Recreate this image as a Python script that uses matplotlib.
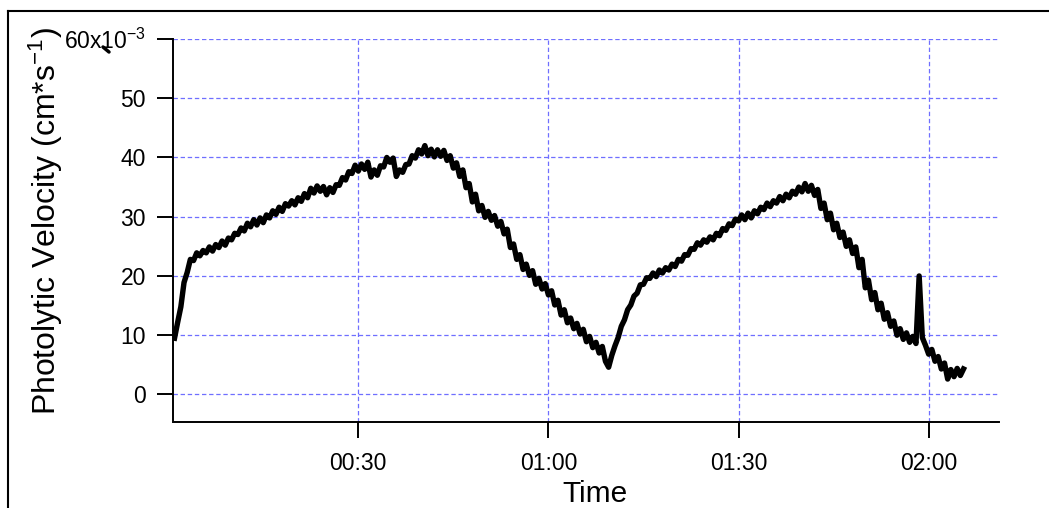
import numpy as np
import matplotlib
matplotlib.use("Agg")
import matplotlib.pyplot as plt
from matplotlib.lines import Line2D
from matplotlib.ticker import FuncFormatter, FixedLocator

plt.rcParams["font.family"] = ["Liberation Sans", "DejaVu Sans"]
plt.rcParams["mathtext.fontset"] = "custom"
plt.rcParams["mathtext.rm"] = "Liberation Sans"
plt.rcParams["mathtext.default"] = "regular"

# Sample clock (minutes since start), one reading every 30 s
t_start = 1.0
t_step = 0.5

# Photolytic velocity, units of 1e-3 cm/s
velocity = [
    9.5, 12.2, 14.8, 18.9, 20.6, 22.8, 22.6, 23.9, 23.4, 24.3,
    23.9, 24.9, 24.2, 25.3, 24.8, 25.9, 25.2, 26.4, 26.1, 27.2,
    27.0, 28.1, 27.6, 28.9, 28.3, 29.5, 28.6, 29.8, 29.0, 30.3,
    29.8, 31.0, 30.4, 31.6, 30.9, 32.2, 31.8, 32.7, 32.0, 33.2,
    32.6, 33.9, 33.2, 34.8, 34.0, 35.2, 34.3, 35.1, 33.7, 34.9,
    34.1, 35.4, 35.3, 36.6, 36.2, 37.6, 37.3, 38.7, 37.7, 38.9,
    38.0, 39.2, 36.7, 37.9, 37.0, 38.6, 38.4, 40.0, 39.2, 39.9,
    36.8, 37.9, 37.5, 38.8, 38.9, 40.3, 39.9, 41.3, 40.6, 42.0,
    40.3, 41.4, 40.1, 41.3, 40.2, 41.2, 39.5, 40.3, 38.2, 39.1,
    36.8, 37.9, 34.9, 35.6, 32.5, 33.8, 31.0, 31.9, 29.9, 30.9,
    29.4, 30.2, 28.4, 29.2, 27.1, 27.9, 24.8, 25.4, 22.8, 23.6,
    21.1, 22.0, 20.1, 20.9, 18.6, 19.6, 17.8, 18.7, 16.8, 17.5,
    15.1, 15.9, 13.4, 14.3, 12.1, 12.9, 11.1, 12.0, 10.2, 11.0,
    8.9, 9.8, 7.9, 8.8, 7.0, 8.1, 5.6, 4.6, 6.6, 8.2,
    9.6, 11.5, 12.6, 14.3, 15.1, 16.6, 17.1, 18.5, 18.6, 19.7,
    19.6, 20.5, 19.9, 21.0, 20.5, 21.4, 21.0, 22.0, 21.6, 22.8,
    22.5, 23.6, 23.5, 24.6, 24.5, 25.6, 25.2, 26.1, 25.7, 26.6,
    26.1, 27.2, 26.8, 28.0, 27.7, 28.8, 28.5, 29.6, 29.3, 30.3,
    29.5, 30.6, 29.8, 31.0, 30.5, 31.6, 31.2, 32.3, 31.7, 32.7,
    32.3, 33.4, 32.7, 33.8, 33.2, 34.3, 33.8, 35.0, 34.2, 35.6,
    34.3, 35.3, 33.6, 34.6, 31.4, 32.3, 29.5, 30.6, 27.8, 28.9,
    26.5, 27.4, 25.0, 26.1, 23.8, 24.9, 21.4, 22.8, 18.0, 19.3,
    16.0, 17.2, 14.3, 15.4, 12.7, 13.8, 11.5, 12.4, 10.0, 11.1,
    9.3, 10.4, 8.8, 9.8, 8.6, 20.0, 9.6, 8.3, 6.8, 7.6,
    5.6, 6.4, 4.3, 5.3, 2.6, 4.2, 3.0, 4.4, 3.2, 4.3,
]
minutes = t_start + t_step * np.arange(len(velocity))

y_ticks = [0, 10, 20, 30, 40, 50, 60]
y_tick_labels = ["0", "10", "20", "30", "40", "50", "60x10$^{-3}$"]
x_ticks = [30, 60, 90, 120]

W, H = 1049, 508
fig = plt.figure(figsize=(W / 100, H / 100), dpi=100)
fig.patch.set_facecolor("white")

ax = fig.add_axes([173 / W, 1 - 422 / H, (999 - 173) / W, (422 - 39) / H])
ax.plot(minutes, velocity, color="black", lw=3.9, solid_joinstyle="round")

ax.set_xlim(0.76, 131.1)
ax.set_ylim(-4.65, 60)

grid_kw = dict(color="#6f6fff", lw=0.9, ls=(0, (3.5, 2.2)), zorder=0)
for yv in y_ticks:
    ax.axhline(yv, **grid_kw)
for xv in x_ticks:
    ax.axvline(xv, **grid_kw)

ax.yaxis.set_major_locator(FixedLocator(y_ticks))
ax.set_yticklabels(y_tick_labels)
ax.xaxis.set_major_locator(FixedLocator(x_ticks))
ax.xaxis.set_major_formatter(FuncFormatter(lambda v, p: f"{int(v // 60):02d}:{int(v % 60):02d}"))

for side in ("top", "right"):
    ax.spines[side].set_visible(False)
for side in ("left", "bottom"):
    ax.spines[side].set_linewidth(1.4)
ax.spines["left"].set_bounds(-4.3, 60)

ax.tick_params(axis="both", direction="out", length=11.5, width=1.4,
               labelsize=16.5, colors="black")
ax.tick_params(axis="y", pad=8)
ax.tick_params(axis="x", pad=10)

fig.text(595 / W, 1 - 502 / H, "Time", fontsize=21.5, ha="center", va="baseline")
fig.text(46 / W, 1 - 221 / H, "Photolytic Velocity (cm*s$^{-1}$)", fontsize=23,
         rotation=90, ha="center", va="center")

# outer frame along the top and left of the figure
fig.add_artist(Line2D([8 / W, 8 / W], [0, 1 - 11 / H], color="black", lw=1.5,
                      transform=fig.transFigure))
fig.add_artist(Line2D([8 / W, 1], [1 - 11 / H, 1 - 11 / H], color="black", lw=1.5,
                      transform=fig.transFigure))
fig.add_artist(Line2D([103 / W, 109 / W], [1 - 47 / H, 1 - 52 / H], color="black",
                      lw=2.5, solid_capstyle="round", transform=fig.transFigure))

fig.savefig("out.png", dpi=100, facecolor="white")
